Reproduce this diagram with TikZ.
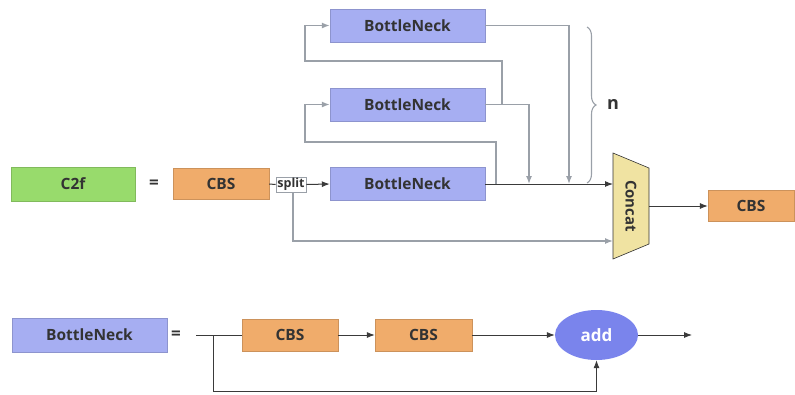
\documentclass[tikz,border=0pt]{standalone}
\usepackage{fontspec}
\setmainfont{Open Sans}
\usetikzlibrary{arrows.meta,shapes.geometric,decorations.pathreplacing}
\definecolor{txt}{HTML}{333333}
\definecolor{cgreen}{HTML}{98DB6C}
\definecolor{corange}{HTML}{F0AC6B}
\definecolor{cblue}{HTML}{A6AEF2}
\definecolor{cyellow}{HTML}{F0E3A2}
\definecolor{cadd}{HTML}{7A84EC}
\definecolor{lgray}{HTML}{9AA0A8}
\definecolor{ldark}{HTML}{3A3A3A}
\tikzset{
  box/.style={draw=#1!85!black, line width=0.4pt, fill=#1, inner sep=0pt, text=txt,
    font=\bfseries\fontsize{15.5}{17}\selectfont},
  bn/.style={box=cblue, minimum width=155pt, minimum height=33pt},
  cbs/.style={box=corange, minimum width=96pt, minimum height=31pt},
  eqsign/.style={text=txt, font=\bfseries\fontsize{17}{18}\selectfont, inner sep=0pt},
  darkline/.style={draw=ldark, line width=1pt},
  grayline/.style={draw=lgray, line width=1.3pt},
  tip/.style={-{Latex[length=8pt,width=6pt]}},
}
\begin{document}
\begin{tikzpicture}[x=1pt,y=-1pt]
\useasboundingbox (0,0) rectangle (795,394);

% ---- C2f block ----
\node[box=cgreen, minimum width=124pt, minimum height=34pt] (c2f) at (73,184) {C2f};
\node[eqsign] (eq1) at (154,184) {=};
\node[cbs] (cbsA) at (221,184) {CBS};
\node[draw=lgray, fill=white, line width=0.6pt, inner sep=0pt, minimum width=30pt,
      minimum height=15pt, text=txt, font=\bfseries\fontsize{12.5}{13}\selectfont]
      (split) at (291,184.5) {split};
\node[bn] (bn1) at (407.5,184) {BottleNeck};
\node[bn] (bn2) at (407.5,104.5) {BottleNeck};
\node[bn] (bn3) at (407.5,25.5) {BottleNeck};

% Concat trapezoid
\coordinate (ctl) at (613,153);
\coordinate (ctr) at (649,168);
\coordinate (cbr) at (649,244);
\coordinate (cbl) at (613,259);
\draw[fill=cyellow, draw=txt, line width=0.6pt] (ctl) -- (ctr) -- (cbr) -- (cbl) -- cycle;
\node[rotate=-90, text=txt, font=\bfseries\fontsize{15}{16}\selectfont, inner sep=0pt]
  (concat) at (631,206) {Concat};
\coordinate (cin1) at (613,184);
\coordinate (cin2) at (613,241);
\coordinate (cout) at (649,206);

\node[cbs, minimum width=86pt] (cbsB) at (751,206) {CBS};

% main path
\draw[darkline] (cbsA.east) -- (split.west);
\draw[darkline, tip] (split.east) -- (bn1.west);
\draw[darkline, tip] (bn1.east) -- (cin1);
\draw[darkline, line width=0.8pt, tip] (cout) -- (cbsB.west);

% split side branch
\coordinate (sb) at (293,192);
\draw[grayline, tip] (sb) |- (cin2);

% feedback loops between stacked bottlenecks
\coordinate (tap1) at (496,184);
\coordinate (tap2) at (502,104.5);
\draw[grayline, tip] (tap1) -- (496,142) -- (305,142) |- (bn2.west);
\draw[grayline, tip] (tap2) -- (502,61) -- (305,61) |- (bn3.west);

% outputs dropping to the concat line
\coordinate (d2) at (529,184);
\coordinate (d3) at (569,184);
\draw[grayline, tip] (bn2.east) -| (d2);
\draw[grayline, tip] (bn3.east) -| (d3);

% brace with repeat count
\draw[lgray, line width=1.1pt, decorate, decoration={brace, amplitude=9pt, aspect=0.5}]
  (587,27) -- (587,183);
\node[text=txt, font=\bfseries\fontsize{18}{19}\selectfont, inner sep=0pt] (n) at (613,104) {n};

% ---- BottleNeck block ----
\node[bn, minimum height=34pt] (bnL) at (89.5,335) {BottleNeck};
\node[eqsign] (eq2) at (176,335) {=};
\coordinate (in) at (196,335);
\coordinate (br) at (213,335);
\node[cbs, minimum height=32pt] (cbsC) at (290,335) {CBS};
\node[cbs, minimum width=97pt, minimum height=32pt] (cbsD) at (423.5,335) {CBS};
\node[ellipse, fill=cadd, minimum width=83pt, minimum height=50pt, inner sep=0pt,
      text=white, font=\bfseries\fontsize{17}{18}\selectfont] (add) at (596.5,335) {add};
\coordinate (out) at (692,335);

\draw[ldark, line width=0.8pt] (in) -- (cbsC.west);
\draw[ldark, line width=0.8pt, tip] (cbsC.east) -- (cbsD.west);
\draw[ldark, line width=0.8pt, tip] (cbsD.east) -- (add.west);
\draw[ldark, line width=0.8pt, tip] (add.east) -- (out);
\draw[ldark, line width=0.8pt, tip] (br) -- (213,391) -| (add.south);
\end{tikzpicture}
\end{document}
